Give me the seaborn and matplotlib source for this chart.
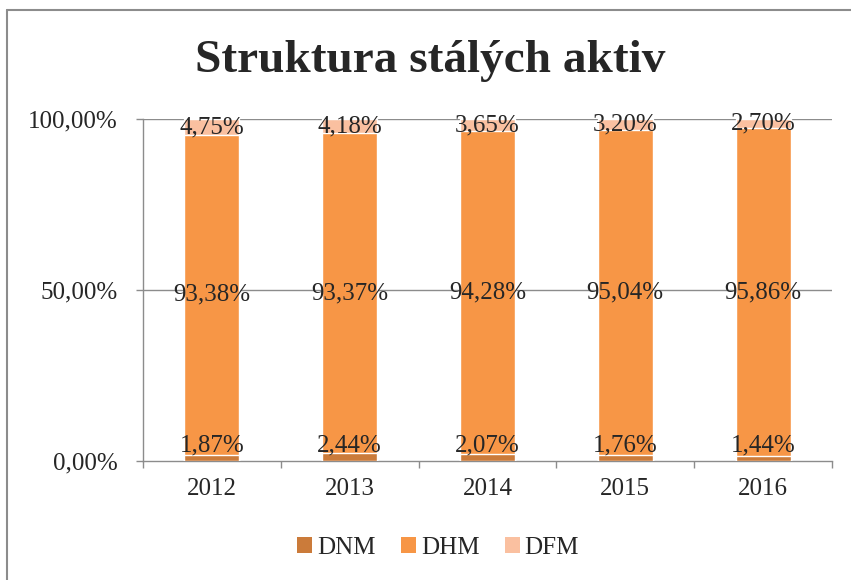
import matplotlib
matplotlib.use("Agg")
import matplotlib.pyplot as plt
from matplotlib.lines import Line2D
from matplotlib.patches import Patch
import seaborn as sns
import pandas as pd

years = ["2012", "2013", "2014", "2015", "2016"]
dnm = [1.87, 2.44, 2.07, 1.76, 1.44]
dhm = [93.38, 93.37, 94.28, 95.04, 95.86]
dfm = [4.75, 4.18, 3.65, 3.20, 2.70]
series = ["DNM", "DHM", "DFM"]
colors = ["#CB7B3A", "#F79646", "#FAC0A0"]

sns.set_theme(style="white")
plt.rcParams["font.family"] = ["Liberation Serif", "DejaVu Serif"]

df = pd.DataFrame({"Rok": years, "DNM": dnm, "DHM": dhm, "DFM": dfm})
df["top"] = df["DNM"] + df["DHM"] + df["DFM"]
df["mid"] = df["DNM"] + df["DHM"]

fig = plt.figure(figsize=(8.51, 5.80), dpi=100)
ax = fig.add_axes([0.168, 0.2052, 0.8097, 0.5896])

# stacked bars drawn as cumulative layers, tallest first
sns.barplot(data=df, x="Rok", y="top", color=colors[2], width=0.4, saturation=1, ax=ax, zorder=3)
sns.barplot(data=df, x="Rok", y="mid", color=colors[1], width=0.4, saturation=1, ax=ax, zorder=3)
sns.barplot(data=df, x="Rok", y="DNM", color=colors[0], width=0.4, saturation=1, ax=ax, zorder=3)

ax.set_ylim(0, 100)
ax.set_xlim(-0.5, len(years) - 0.5)
ax.set_yticks([0, 50, 100])
ax.set_yticklabels(["0,00%", "50,00%", "100,00%"])
ax.set_xlabel("")
ax.set_ylabel("")

grid_c = "#8C8C8C"
for y in [50, 100]:
    ax.axhline(y, color=grid_c, lw=1.0, zorder=1)
for s in ["top", "right"]:
    ax.spines[s].set_visible(False)
for s in ["left", "bottom"]:
    ax.spines[s].set_color(grid_c)
    ax.spines[s].set_linewidth(1.0)

ax.set_xticks([i - 0.5 for i in range(len(years) + 1)], minor=True)
ax.tick_params(axis="x", which="major", length=0, pad=12, labelsize=18)
ax.tick_params(axis="x", which="minor", length=5, width=1, color=grid_c, direction="out", bottom=True)
ax.tick_params(axis="y", length=5, width=1, color=grid_c, direction="out", left=True, pad=13, labelsize=18)

def fmt(v):
    return f"{v:.2f}%".replace(".", ",")

for i in range(len(years)):
    ax.annotate(fmt(dnm[i]), (i, 0), xytext=(0, 7), textcoords="offset points",
                ha="center", va="baseline", fontsize=18, zorder=5)
    ax.text(i, dnm[i] + dhm[i] / 2, fmt(dhm[i]), ha="center", va="center", fontsize=18, zorder=5)
    ax.text(i, dnm[i] + dhm[i] + dfm[i] / 2, fmt(dfm[i]), ha="center", va="center", fontsize=18, zorder=5)

fig.suptitle("Struktura stálých aktiv", x=0.505, y=0.895, fontsize=34, fontweight="bold", va="center")

handles = [Patch(facecolor=c, edgecolor="none") for c in colors]
fig.legend(handles, series, loc="center", bbox_to_anchor=(0.515, 0.055), ncol=3, frameon=False,
           fontsize=18, handlelength=0.6, handleheight=0.6, handletextpad=0.2, columnspacing=1.0)

# chart frame (cropped on right and bottom)
fig.add_artist(Line2D([7 / 851, 7 / 851], [0, 1 - 10 / 580], transform=fig.transFigure, color="#8C8C8C", lw=1.5))
fig.add_artist(Line2D([7 / 851, 1], [1 - 10 / 580, 1 - 10 / 580], transform=fig.transFigure, color="#8C8C8C", lw=1.5))

fig.savefig("out.png", dpi=100)
